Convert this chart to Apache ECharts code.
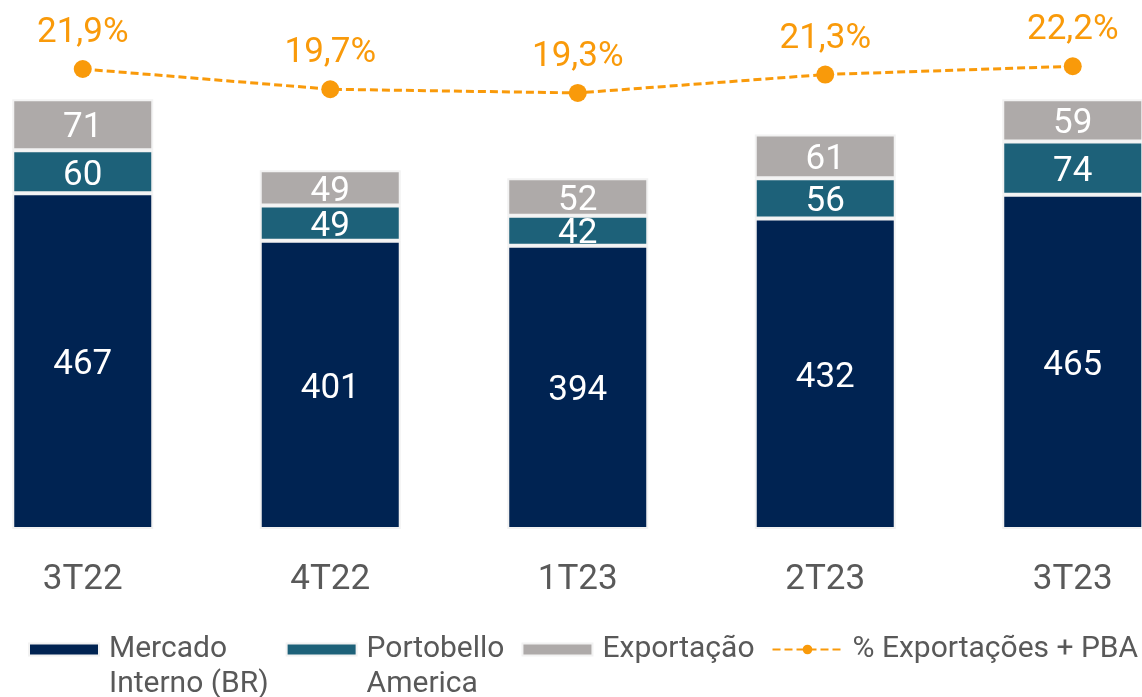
<!DOCTYPE html>
<html>
<head>
<meta charset="utf-8">
<script src="https://cdn.jsdelivr.net/npm/echarts@6/dist/echarts.min.js"></script>
<style>
  html, body { margin: 0; padding: 0; background: #fff; }
  #chart { width: 1142px; height: 697px; }
</style>
</head>
<body>
<div id="chart"></div>
<script>
// dados
var categories = ['3T22', '4T22', '1T23', '2T23', '3T23'];
var mercadoInterno = [467, 401, 394, 432, 465];
var portobelloAmerica = [60, 49, 42, 56, 74];
var exportacao = [71, 49, 52, 61, 59];
var pctExportacoes = [21.9, 19.7, 19.3, 21.3, 22.2];

var chart = echarts.init(document.getElementById('chart'));

var barLabel = {
    show: true,
    position: 'inside',
    offset: [0, 4],
    color: '#ffffff',
    fontFamily: 'Roboto',
    fontSize: 35
};
var barBorder = { borderColor: '#f2f2f2', borderWidth: 2 };

// legenda: linha vazia no topo para o texto começar alinhado ao ícone
function legendText(name) {
    var lines = name.split('\n');
    if (lines.length > 1) lines.unshift('');
    return lines.map(function (l) { return '{t|' + l + '}'; }).join('\n');
}

var option = {
    animation: false,
    textStyle: { fontFamily: 'Roboto' },
    grid: {
        left: -41,
        width: 1237.5,
        top: 0,
        bottom: 168,
        containLabel: false,
        outerBoundsMode: 'none'
    },
    legend: {
        left: 28,
        top: 597,
        padding: 0,
        itemWidth: 70,
        itemHeight: 12,
        itemGap: 17,
        textStyle: {
            color: '#595959',
            fontFamily: 'Roboto',
            fontSize: 30,
            lineHeight: 35,
            rich: {
                t: {
                    color: '#595959',
                    fontFamily: 'Roboto',
                    fontSize: 30,
                    lineHeight: 35,
                    padding: [0, 0, 0, 5]
                }
            }
        },
        formatter: legendText,
        data: [
            { name: 'Mercado\nInterno (BR)', icon: 'rect' },
            { name: 'Portobello\nAmerica', icon: 'rect' },
            { name: 'Exportação', icon: 'rect' },
            { name: '% Exportações + PBA' }
        ]
    },
    xAxis: {
        type: 'category',
        data: categories,
        axisLine: { show: false },
        axisTick: { show: false },
        axisLabel: {
            color: '#595959',
            fontFamily: 'Roboto',
            fontSize: 35,
            margin: 34
        }
    },
    yAxis: [
        { type: 'value', min: 0, max: 736, show: false },
        { type: 'value', min: -28.1, max: 29.4, show: false }
    ],
    series: [
        {
            name: 'Mercado\nInterno (BR)',
            type: 'bar',
            stack: 'total',
            barWidth: 141,
            itemStyle: Object.assign({ color: '#002352' }, barBorder),
            label: barLabel,
            data: mercadoInterno
        },
        {
            name: 'Portobello\nAmerica',
            type: 'bar',
            stack: 'total',
            barWidth: 141,
            itemStyle: Object.assign({ color: '#1d6179' }, barBorder),
            label: barLabel,
            data: portobelloAmerica
        },
        {
            name: 'Exportação',
            type: 'bar',
            stack: 'total',
            barWidth: 141,
            itemStyle: Object.assign({ color: '#aeaaa9' }, barBorder),
            label: barLabel,
            data: exportacao
        },
        {
            name: '% Exportações + PBA',
            type: 'line',
            yAxisIndex: 1,
            symbol: 'circle',
            symbolSize: 18,
            itemStyle: { color: '#f99a0a' },
            lineStyle: { color: '#f99a0a', width: 3, type: [8, 4] },
            label: {
                show: true,
                position: 'top',
                distance: 9,
                color: '#f99a0a',
                fontFamily: 'Roboto',
                fontSize: 35,
                formatter: function (p) {
                    return p.value.toFixed(1).replace('.', ',') + '%';
                }
            },
            data: pctExportacoes
        }
    ]
};

chart.setOption(option);
</script>
</body>
</html>
